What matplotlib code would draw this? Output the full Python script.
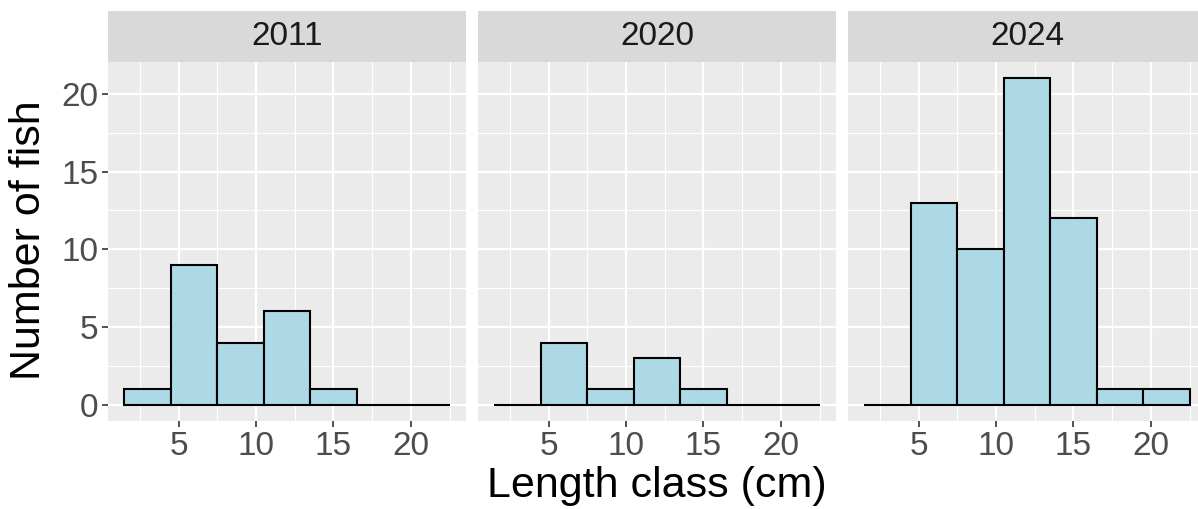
"""
Faceted length-frequency histograms (ggplot-like look)
"""
import matplotlib
matplotlib.use("Agg")
import matplotlib.pyplot as plt
import numpy as np

plt.rcParams["font.family"] = ["Liberation Sans", "DejaVu Sans"]

# ── data ──
years = ["2011", "2020", "2024"]
bin_edges = [1.5, 4.5, 7.5, 10.5, 13.5, 16.5, 19.5, 22.5]
counts_2011 = [1, 9, 4, 6, 1, 0, 0]
counts_2020 = [0, 4, 1, 3, 1, 0, 0]
counts_2024 = [0, 13, 10, 21, 12, 1, 1]
all_counts = [counts_2011, counts_2020, counts_2024]
x_ticks = [5, 10, 15, 20]
y_ticks = [0, 5, 10, 15, 20]

PANEL_BG = "#EBEBEB"
STRIP_BG = "#D9D9D9"
FILL = "#ADD8E6"
TICK_GREY = "#4D4D4D"

W, H = 1198, 509
fig = plt.figure(figsize=(W / 100, H / 100), dpi=100)

panel_x = [108, 478, 848]
panel_w = 358
panel_top = 62
panel_bot = 421
strip_top = 11

edges = np.array(bin_edges)
widths = np.diff(edges)
lefts = edges[:-1]

for i, (yr, counts) in enumerate(zip(years, all_counts)):
    x0 = panel_x[i]
    ax = fig.add_axes([x0 / W, 1 - panel_bot / H, panel_w / W, (panel_bot - panel_top) / H])
    ax.set_facecolor(PANEL_BG)
    ax.bar(lefts, counts, width=widths, align="edge", color=FILL,
           edgecolor="black", linewidth=1.5, zorder=3)
    ax.set_xlim(0.45, 23.55)
    ax.set_ylim(-1.05, 22.05)
    ax.set_xticks(x_ticks)
    ax.set_xticks([2.5, 7.5, 12.5, 17.5, 22.5], minor=True)
    ax.set_yticks(y_ticks)
    ax.set_yticks([2.5, 7.5, 12.5, 17.5], minor=True)
    ax.grid(which="major", color="white", linewidth=1.6, zorder=0)
    ax.grid(which="minor", color="white", linewidth=0.8, zorder=0)
    ax.set_axisbelow(True)
    for s in ax.spines.values():
        s.set_visible(False)
    ax.tick_params(which="minor", length=0)
    ax.tick_params(which="major", length=4, width=1.2, color="#333333",
                   labelsize=24, labelcolor=TICK_GREY, pad=3)
    if i > 0:
        ax.tick_params(axis="y", left=False, labelleft=False)

    # facet strip
    sax = fig.add_axes([x0 / W, 1 - panel_top / H, panel_w / W, (panel_top - strip_top) / H])
    sax.set_facecolor(STRIP_BG)
    sax.set_xticks([])
    sax.set_yticks([])
    for s in sax.spines.values():
        s.set_visible(False)
    sax.text(0.5, 0.5, yr, ha="center", va="center", fontsize=24,
             color="#1A1A1A", transform=sax.transAxes)

fig.text(29 / W, 1 - 240 / H, "Number of fish", rotation=90, ha="center",
         va="center", fontsize=31, color="black")
fig.text((478 + panel_w / 2) / W, 1 - 486 / H, "Length class (cm)", ha="center",
         va="center", fontsize=31, color="black")

fig.savefig("out.png", dpi=100, facecolor="white")
plt.close()
